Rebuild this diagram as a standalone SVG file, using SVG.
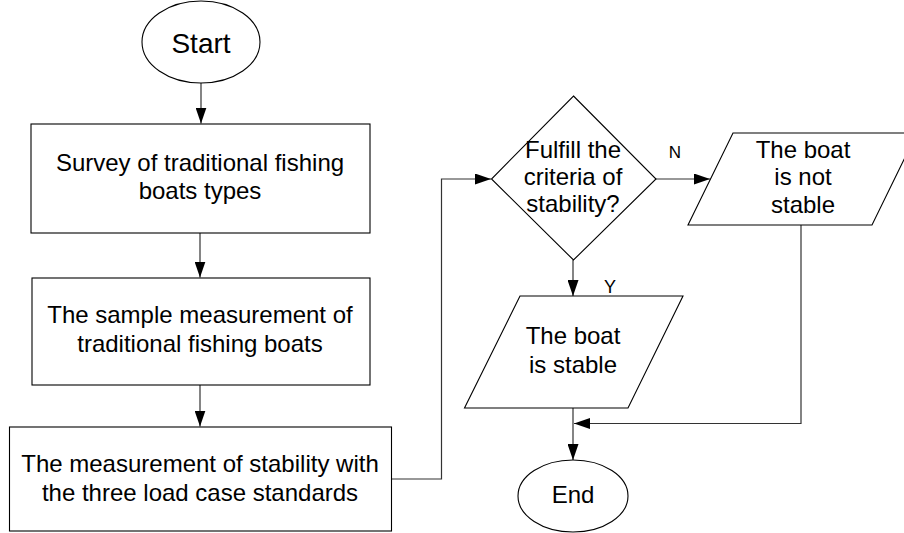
<svg xmlns="http://www.w3.org/2000/svg" width="904" height="533" viewBox="0 0 904 533">
<defs>
<marker id="arr" viewBox="0 0 16 11" refX="16" refY="5.5" markerWidth="16" markerHeight="11" markerUnits="userSpaceOnUse" orient="auto">
<path d="M0,0 L16,5.5 L0,11 z" fill="#000"/>
</marker>
<style>
.shape{fill:#fff;stroke:#000;stroke-width:1.1}
.line{fill:none;stroke:#333;stroke-width:1.2}
text{font-family:"Liberation Sans",Arial,sans-serif;font-size:24px;fill:#000;text-anchor:middle}
.lbl{font-size:17px}
</style>
</defs>
<rect width="904" height="533" fill="#fff"/>
<g id="connectors">
<path class="line" d="M201,82 V123.5" marker-end="url(#arr)"/>
<path class="line" d="M200,233 V277.5" marker-end="url(#arr)"/>
<path class="line" d="M200,385 V426.5" marker-end="url(#arr)"/>
<path class="line" d="M392,479 H441.5 V179 H491" marker-end="url(#arr)"/>
<path class="line" d="M656,179 H710" marker-end="url(#arr)"/>
<path class="line" d="M573,260 V296" marker-end="url(#arr)"/>
<path class="line" d="M801,225 V423.5 H574" marker-end="url(#arr)"/>
<path class="line" d="M573,408 V460" marker-end="url(#arr)"/>
<text class="lbl" x="675" y="158">N</text>
<text class="lbl" x="610" y="293" style="font-size:18px">Y</text>
</g>
<g id="start">
<ellipse class="shape" cx="201" cy="42" rx="59" ry="41"/>
<text x="201" y="53" style="font-size:28px">Start</text>
</g>
<g id="survey">
<rect class="shape" x="31" y="124" width="339" height="109"/>
<text x="200" y="171">Survey of traditional fishing</text>
<text x="200" y="199">boats types</text>
</g>
<g id="sample">
<rect class="shape" x="32" y="278" width="338" height="107"/>
<text x="200" y="323">The sample measurement of</text>
<text x="200" y="352">traditional fishing boats</text>
</g>
<g id="stability">
<rect class="shape" x="9.5" y="427" width="382" height="104"/>
<text x="200" y="472">The measurement of stability with</text>
<text x="200" y="501">the three load case standards</text>
</g>
<g id="decision">
<path class="shape" d="M573.5,96 L656,179 L573.5,260 L491.5,179 Z"/>
<text x="573" y="158">Fulfill the</text>
<text x="573" y="185">criteria of</text>
<text x="573" y="212">stability?</text>
</g>
<g id="not-stable">
<path class="shape" d="M733,133 L917,133 L872,225 L688,225 Z"/>
<text x="803" y="158">The boat</text>
<text x="803" y="185">is not</text>
<text x="803" y="213">stable</text>
</g>
<g id="stable">
<path class="shape" d="M520,296 L683,296 L628,408 L464.5,408 Z"/>
<text x="573" y="344">The boat</text>
<text x="573" y="373">is stable</text>
</g>
<g id="end">
<ellipse class="shape" cx="573" cy="496" rx="55" ry="36"/>
<text x="573" y="503">End</text>
</g>
</svg>
